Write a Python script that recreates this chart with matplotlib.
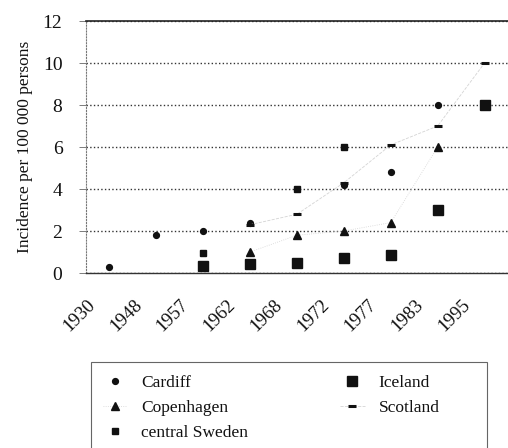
import numpy as np
import matplotlib
matplotlib.use("Agg")
import matplotlib.pyplot as plt
from matplotlib.patches import Rectangle
from matplotlib.transforms import ScaledTranslation

plt.rcParams['font.family'] = ['Liberation Serif', 'DejaVu Serif']

years = ['1930', '1948', '1957', '1962', '1968', '1972', '1977', '1983', '1995']
nan = np.nan
cardiff = [0.3, 1.8, 2.0, 2.4, nan, 4.2, 4.8, 8.0, nan]
copenhagen = [nan, nan, nan, 1.0, 1.8, 2.0, 2.4, 6.0, nan]
central_sweden = [nan, nan, 0.95, nan, 4.0, 6.0, nan, nan, nan]
iceland = [nan, nan, 0.35, 0.45, 0.5, 0.7, 0.85, 3.0, 8.0]
scotland = [nan, nan, nan, 2.3, 2.8, 4.3, 6.1, 7.0, 10.0]

ink = '#111111'

fig = plt.figure(figsize=(5.08, 4.48), dpi=100)
ax = fig.add_axes([86 / 508, 1 - 273 / 448, 1 - 86 / 508, (273 - 21) / 448])

x = np.arange(len(years))
ax.plot(x, cardiff, linestyle='none', marker='o', ms=4.2, color=ink, label='Cardiff')
ax.plot(x, copenhagen, linestyle=':', lw=0.6, color='#d4d4d4', marker='^', ms=5.5,
        mfc=ink, mec=ink, label='Copenhagen')
ax.plot(x, central_sweden, linestyle='none', marker='s', ms=5, color=ink, label='central Sweden')
ax.plot(x, iceland, linestyle='none', marker='s', ms=7.5, color=ink, label='Iceland')
ax.plot(x, scotland, linestyle='--', lw=0.6, color='#d4d4d4', marker='_', ms=6, mew=2.2,
        mec=ink, label='Scotland')

ax.set_xlim(-0.5, len(years) - 0.5)
ax.set_ylim(0, 12)
ax.set_yticks(range(0, 13, 2))
ax.set_xticks(x)
ax.set_xticklabels(years, rotation=45, ha='right', va='top', fontsize=13.5, color=ink)
ax.tick_params(axis='x', length=0, pad=17)
ax.tick_params(axis='y', length=5, width=0.6, color='#666666', pad=12, labelsize=14,
               labelcolor=ink)
for lab in ax.get_xticklabels():
    lab.set_transform(lab.get_transform() + ScaledTranslation(-0.11, 0, fig.dpi_scale_trans))

ax.set_ylabel('Incidence per 100 000 persons', fontsize=12.5, color=ink)
ax.yaxis.set_label_coords(-(86 - 33) / 422, 0.5)

ax.grid(axis='y', linestyle=':', color='#333333', lw=1.0)
ax.set_axisbelow(True)
ax.spines['right'].set_visible(False)
ax.spines['top'].set_color('#222222')
ax.spines['top'].set_linewidth(1.2)
ax.spines['bottom'].set_color('#333333')
ax.spines['bottom'].set_linewidth(1.0)
ax.spines['left'].set_color('#777777')
ax.spines['left'].set_linestyle(':')
ax.spines['left'].set_linewidth(0.8)

# legend box (runs off the bottom of the figure like the scan)
fig.patches.append(Rectangle((91 / 508, -0.1), 396 / 508, 0.1 + (448 - 362) / 448,
                             transform=fig.transFigure, fill=False,
                             edgecolor='#666666', lw=0.8))

leg = fig.legend(loc='upper left', ncol=2, bbox_to_anchor=(103 / 508, 1 - 375 / 448),
                 bbox_transform=fig.transFigure, fontsize=12.5, frameon=False,
                 handlelength=1.4, handletextpad=0.8, labelspacing=0.5,
                 borderpad=0, borderaxespad=0, columnspacing=5.3)
for t in leg.get_texts():
    t.set_color(ink)

fig.savefig('out.png', dpi=100)
